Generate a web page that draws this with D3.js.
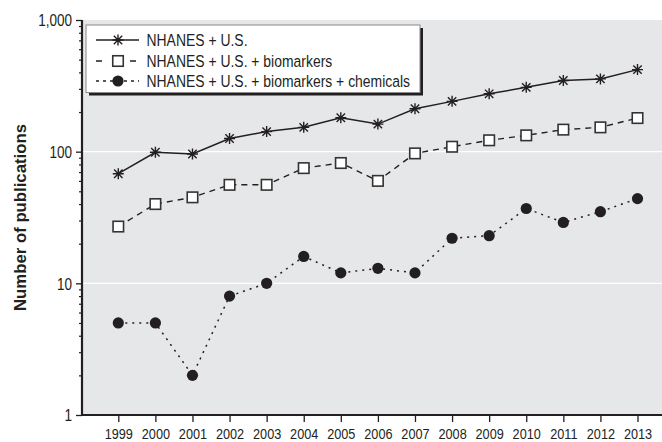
<!DOCTYPE html>
<html>
<head>
<meta charset="utf-8">
<script src="https://cdn.jsdelivr.net/npm/d3@7"></script>
<style>
  html, body { margin: 0; padding: 0; background: #fff; }
  svg { display: block; }
  text { font-family: "Liberation Sans", Arial, sans-serif; fill: #231f20; }
</style>
</head>
<body>
<svg id="chart" width="662" height="442"></svg>
<script>
const years = [1999, 2000, 2001, 2002, 2003, 2004, 2005, 2006, 2007, 2008, 2009, 2010, 2011, 2012, 2013];
const nhanesUS = [68, 99, 96, 126, 142, 153, 181, 162, 212, 241, 275, 308, 347, 357, 420];
const nhanesUSBio = [27, 40, 45, 56, 56, 75, 82, 60, 97, 109, 122, 133, 147, 153, 180];
const nhanesUSBioChem = [5, 5, 2, 8, 10, 16, 12, 13, 12, 22, 23, 37, 29, 35, 44];
const seriesNames = ["NHANES + U.S.", "NHANES + U.S. + biomarkers", "NHANES + U.S. + biomarkers + chemicals"];
const yTickValues = [1, 10, 100, 1000];
const yTickLabels = ["1", "10", "100", "1,000"];
const yLabel = "Number of publications";

const ink = "#231f20";
const narrow = 0.82;
const svg = d3.select("#chart");

// emulate a narrow typeface by horizontal scaling around the text anchor
function condense(sel, f) {
  sel.each(function () {
    const t = d3.select(this);
    const tx = +t.attr("x") || 0, ty = +t.attr("y") || 0;
    t.attr("x", 0).attr("y", 0).attr("transform", `translate(${tx},${ty}) scale(${f},1)`);
  });
}

const plot = { left: 82, right: 662, top: 20, bottom: 415 };
const x = d3.scaleLinear().domain([1999, 2013]).range([118.3, 637.5]);
const y = d3.scaleLog().domain([1, 1000]).range([plot.bottom, plot.top]);

// background
svg.append("rect")
  .attr("x", plot.left).attr("y", plot.top)
  .attr("width", plot.right - plot.left).attr("height", plot.bottom - plot.top)
  .attr("fill", "#e6e7e8");

// white grid lines
svg.append("g").selectAll("line").data([10, 100]).join("line")
  .attr("x1", plot.left).attr("x2", plot.right)
  .attr("y1", d => y(d)).attr("y2", d => y(d))
  .attr("stroke", "#fff").attr("stroke-width", 1.2);

// y axis
const minorVals = [];
for (let dec = 1; dec < 1000; dec *= 10) for (let k = 2; k <= 9; k++) minorVals.push(dec * k);

const yAxis = d3.axisLeft(y).tickValues(yTickValues)
  .tickFormat((d, i) => yTickLabels[i]).tickSize(6).tickPadding(4);
const gy = svg.append("g").attr("transform", `translate(${plot.left},0)`).call(yAxis);
gy.select(".domain").remove();
gy.selectAll(".tick line").attr("stroke", ink).attr("stroke-width", 1.3);
gy.selectAll(".tick text").attr("font-size", 16.5).attr("dy", "0.36em").style("fill", ink)
  .style("font-family", "'Liberation Sans', Arial, sans-serif");
condense(gy.selectAll(".tick text"), narrow);

const yMinor = d3.axisLeft(y).tickValues(minorVals).tickFormat("").tickSize(3);
const gym = svg.append("g").attr("transform", `translate(${plot.left},0)`).call(yMinor);
gym.select(".domain").remove();
gym.selectAll(".tick line").attr("stroke", ink).attr("stroke-width", 1.2);

svg.append("line")
  .attr("x1", plot.left).attr("x2", plot.left)
  .attr("y1", plot.top).attr("y2", plot.bottom + 1)
  .attr("stroke", ink).attr("stroke-width", 2.2);

// x axis
const xAxis = d3.axisBottom(x).tickValues(years).tickFormat(d3.format("d")).tickSize(7).tickPadding(6);
const gx = svg.append("g").attr("transform", `translate(0,${plot.bottom})`).call(xAxis);
gx.select(".domain").remove();
gx.selectAll(".tick line").attr("stroke", ink).attr("stroke-width", 1.3);
gx.selectAll(".tick text").attr("font-size", 15.5).style("fill", ink)
  .style("font-family", "'Liberation Sans', Arial, sans-serif");
condense(gx.selectAll(".tick text"), narrow);

svg.append("line")
  .attr("x1", plot.left - 1).attr("x2", plot.right)
  .attr("y1", plot.bottom).attr("y2", plot.bottom)
  .attr("stroke", ink).attr("stroke-width", 2.2);

// y label
svg.append("text")
  .attr("transform", `translate(26,${(plot.top + plot.bottom) / 2}) rotate(-90)`)
  .attr("text-anchor", "middle")
  .attr("font-size", 17).attr("font-weight", "bold")
  .attr("textLength", 187).attr("lengthAdjust", "spacingAndGlyphs")
  .text(yLabel);

// series
const series = [
  { name: seriesNames[0], values: nhanesUS, dash: null, width: 1.5, marker: "asterisk" },
  { name: seriesNames[1], values: nhanesUSBio, dash: "6,5", width: 1.4, marker: "square" },
  { name: seriesNames[2], values: nhanesUSBioChem, dash: "2,5", width: 1.5, marker: "circle" }
];

const line = d3.line().x(d => x(d[0])).y(d => y(d[1]));

function drawMarker(g, type, cx, cy) {
  if (type === "asterisk") {
    const r = 5.5, rd = 4.2;
    g.append("path")
      .attr("d", `M${cx - r},${cy}L${cx + r},${cy}M${cx},${cy - r}L${cx},${cy + r}` +
                 `M${cx - rd},${cy - rd}L${cx + rd},${cy + rd}M${cx - rd},${cy + rd}L${cx + rd},${cy - rd}`)
      .attr("stroke", ink).attr("stroke-width", 1.4).attr("fill", "none");
  } else if (type === "square") {
    const s = 10.5;
    g.append("rect").attr("x", cx - s / 2).attr("y", cy - s / 2).attr("width", s).attr("height", s)
      .attr("fill", "#fff").attr("stroke", "#333").attr("stroke-width", 1.6);
  } else {
    g.append("circle").attr("cx", cx).attr("cy", cy).attr("r", 5.6).attr("fill", ink);
  }
}

series.forEach(s => {
  const pts = years.map((yr, i) => [yr, s.values[i]]);
  const g = svg.append("g");
  g.append("path").datum(pts).attr("d", line)
    .attr("fill", "none").attr("stroke", ink).attr("stroke-width", s.width)
    .attr("stroke-dasharray", s.dash);
  pts.forEach(p => drawMarker(g, s.marker, x(p[0]), y(p[1])));
});

// legend
const lg = svg.append("g");
const lx = 86, ly = 25, lw = 334, lh = 67.5;
lg.append("rect").attr("x", lx + 3).attr("y", ly + 3).attr("width", lw).attr("height", lh).attr("fill", ink);
lg.append("rect").attr("x", lx).attr("y", ly).attr("width", lw).attr("height", lh)
  .attr("fill", "#fff").attr("stroke", "#8a8a8a").attr("stroke-width", 1);
const rowY = [40, 61, 81];
series.forEach((s, i) => {
  const cy = rowY[i];
  lg.append("line").attr("x1", 96).attr("x2", 139).attr("y1", cy).attr("y2", cy)
    .attr("stroke", ink).attr("stroke-width", s.width)
    .attr("stroke-dasharray", s.dash ? (i === 1 ? "6,11" : "3,4") : null);
  if (i === 1) lg.append("rect").attr("x", 110).attr("y", cy - 7).attr("width", 16).attr("height", 14).attr("fill", "#fff");
  drawMarker(lg, s.marker, 118, cy);
  const t = lg.append("text").attr("x", 146.5).attr("y", cy + 6).attr("font-size", 17).text(s.name);
  condense(t, narrow);
});
</script>
</body>
</html>
